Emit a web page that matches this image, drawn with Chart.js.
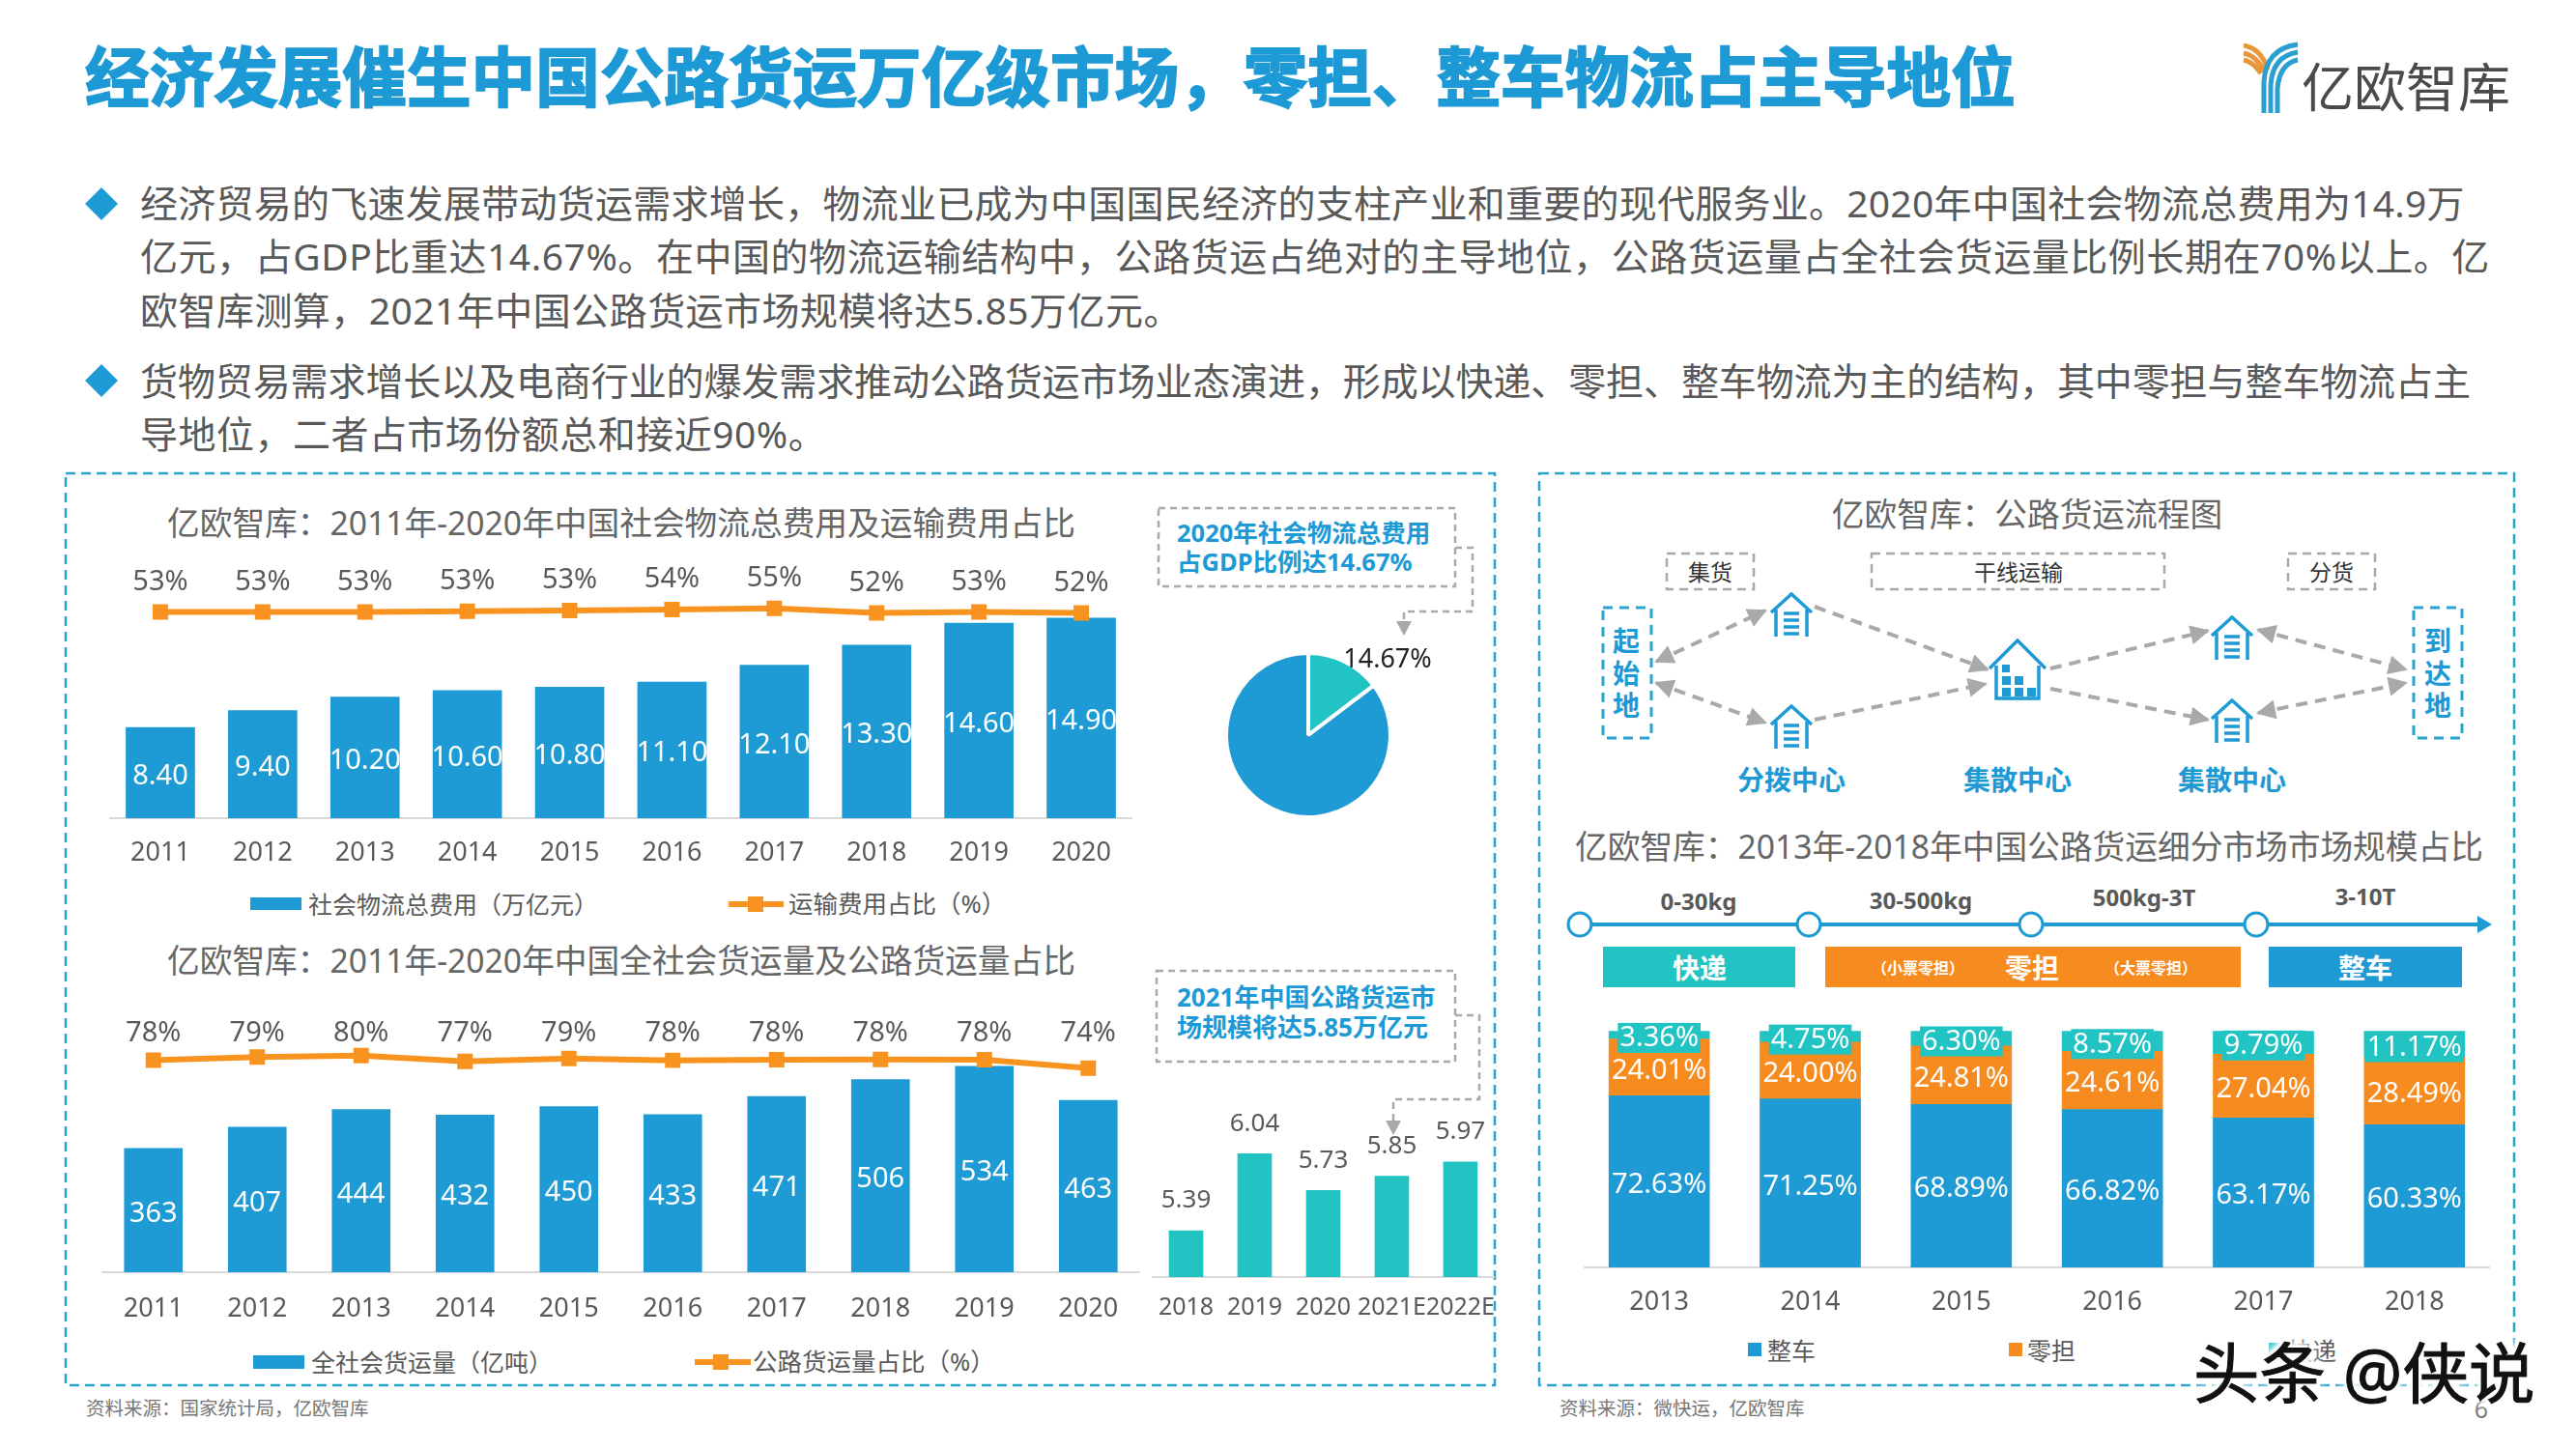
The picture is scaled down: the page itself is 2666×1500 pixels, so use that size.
<!DOCTYPE html>
<html lang="zh">
<head>
<meta charset="utf-8">
<title>公路货运市场</title>
<script src="https://cdn.jsdelivr.net/npm/chart.js@4/dist/chart.umd.min.js"></script>
<style>
  html, body { margin: 0; background: #fff; }
  #page { position: relative; width: 2666px; height: 1500px; overflow: hidden; background: #fff;
    font-family: "Noto Sans", "Noto Sans CJK SC", sans-serif; }
  #page svg { position: absolute; left: 0; top: 0; }
  #page canvas { position: absolute; }
  .t { position: absolute; white-space: nowrap; line-height: 1; transform: translateY(-50%); }
  .c { transform: translate(-50%, -50%); }
  .sw { position: absolute; }
</style>
</head>
<body>
<div id="page">
<svg width="2666" height="1500" viewBox="0 0 2666 1500" fill="none">
  <defs>
    <marker id="bigTip" viewBox="0 0 10 10" refX="9" refY="5" markerWidth="22" markerHeight="20" orient="auto-start-reverse" markerUnits="userSpaceOnUse">
      <path d="M0 0 L10 5 L0 10 Z" fill="#a9a9a9"/>
    </marker>
    <symbol id="house" viewBox="0 0 48 46">
      <path d="M3 21 L24 2 L45 21 M8 18 V46 M40 18 V46" stroke="#1e9bd4" stroke-width="3.5" fill="none"/>
      <path d="M16 22 H32 M16 29 H32 M16 36 H32 M16 43 H32" stroke="#1e9bd4" stroke-width="3.5"/>
    </symbol>
    <symbol id="bigHouse" viewBox="0 0 62 64">
      <path d="M2 31 L31 2 L60 31 M9 28 V62 H53 V28" stroke="#1e9bd4" stroke-width="3.5" fill="none"/>
      <path d="M15 27 h8 v8 h-8 z M15 39 h9 v9 h-9 z M28 39 h9 v9 h-9 z M15 51 h9 v9 h-9 z M28 51 h9 v9 h-9 z M41 51 h9 v9 h-9 z" fill="#1e9bd4"/>
    </symbol>
  </defs>

  <!-- logo -->
  <path d="M2322 47 Q2340 50 2347 72 M2322 55 Q2336 58 2343 74 M2322 62 Q2332 64 2340 76" stroke="#e8973a" stroke-width="5"/>
  <path d="M2378 46 Q2345 50 2343 85 V117 M2378 54 Q2352 58 2350 88 V117 M2378 62 Q2359 66 2357 92 V117" stroke="#2a9fd0" stroke-width="5"/>

  <!-- bullets -->
  <path d="M105 194 L122 211 L105 228 L88 211 Z M105 377 L122 394 L105 411 L88 394 Z" fill="#1e9bd4"/>

  <!-- panels -->
  <g stroke="#2aa3cf" stroke-width="2.5" stroke-dasharray="10 6">
    <rect x="68" y="490" width="1479" height="944"/>
    <rect x="1593" y="490" width="1009" height="944"/>
  </g>

  <!-- callouts -->
  <g stroke="#a9a9a9" stroke-width="2.5" stroke-dasharray="7 5">
    <rect x="1199" y="526" width="307" height="81"/>
    <path d="M1506 567 H1524 V633 H1453 V644"/>
    <rect x="1197" y="1005" width="309" height="94"/>
    <path d="M1506 1051 H1531 V1138 H1442 V1161"/>
  </g>
  <path d="M1445 643 h16 l-8 15 z M1434 1160 h16 l-8 15 z" fill="#a9a9a9"/>

  <!-- flow diagram -->
  <g stroke="#a9a9a9" stroke-width="2.5" stroke-dasharray="9 6">
    <rect x="1725" y="573" width="90" height="37"/>
    <rect x="1937" y="573" width="303" height="37"/>
    <rect x="2368" y="573" width="90" height="37"/>
  </g>
  <g stroke="#2aa3cf" stroke-width="3" stroke-dasharray="10 7">
    <rect x="1659" y="629" width="50" height="135"/>
    <rect x="2498" y="629" width="50" height="135"/>
  </g>
  <g stroke="#a9a9a9" stroke-width="4" stroke-dasharray="12 8">
    <path d="M1714 685 L1827 632" marker-start="url(#bigTip)" marker-end="url(#bigTip)"/>
    <path d="M1714 707 L1827 748" marker-start="url(#bigTip)" marker-end="url(#bigTip)"/>
    <path d="M1878 628 L2057 693" marker-end="url(#bigTip)"/>
    <path d="M1878 745 L2055 708" marker-end="url(#bigTip)"/>
    <path d="M2122 692 L2285 653" marker-end="url(#bigTip)"/>
    <path d="M2122 713 L2285 745" marker-end="url(#bigTip)"/>
    <path d="M2337 652 L2490 693" marker-start="url(#bigTip)" marker-end="url(#bigTip)"/>
    <path d="M2337 738 L2490 707" marker-start="url(#bigTip)" marker-end="url(#bigTip)"/>
  </g>
  <use href="#house" x="1830" y="613" width="48" height="46"/>
  <use href="#house" x="1830" y="729" width="48" height="46"/>
  <use href="#bigHouse" x="2057" y="661" width="62" height="64"/>
  <use href="#house" x="2286" y="637" width="48" height="46"/>
  <use href="#house" x="2286" y="723" width="48" height="46"/>

  <!-- timeline -->
  <path d="M1635 957 H2566" stroke="#1e9bd4" stroke-width="4"/>
  <path d="M2564 948 L2579 957 L2564 966 Z" fill="#1e9bd4"/>
  <g fill="#fff" stroke="#1e9bd4" stroke-width="3">
    <circle cx="1635" cy="957" r="12"/>
    <circle cx="1872" cy="957" r="12"/>
    <circle cx="2102" cy="957" r="12"/>
    <circle cx="2335" cy="957" r="12"/>
  </g>
  <rect x="1659" y="980" width="199" height="42" fill="#22c3c3"/>
  <rect x="1889" y="980" width="430" height="42" fill="#f68b1f"/>
  <rect x="2348" y="980" width="200" height="42" fill="#1e9bd4"/>
</svg>
</div>

<script>
// chart 1: logistics cost
const costYears = ["2011", "2012", "2013", "2014", "2015", "2016", "2017", "2018", "2019", "2020"];
const costValues = [8.4, 9.4, 10.2, 10.6, 10.8, 11.1, 12.1, 13.3, 14.6, 14.9];
const costValueLabels = ["8.40", "9.40", "10.20", "10.60", "10.80", "11.10", "12.10", "13.30", "14.60", "14.90"];
const transportShare = [53, 53, 53, 53.4, 53.8, 54.4, 55.2, 52.3, 53, 52.4];
const transportShareLabels = ["53%", "53%", "53%", "53%", "53%", "54%", "55%", "52%", "53%", "52%"];

// pie
const gdpShareNames = ["运输费用占比", "其他"];
const gdpShareValues = [14.67, 85.33];

// chart 2: freight volume
const freightYears = ["2011", "2012", "2013", "2014", "2015", "2016", "2017", "2018", "2019", "2020"];
const freightValues = [363, 407, 444, 432, 450, 433, 471, 506, 534, 463];
const roadShare = [78, 79.4, 80.1, 77.4, 78.8, 77.9, 78.2, 78.3, 78.2, 74.2];
const roadShareLabels = ["78%", "79%", "80%", "77%", "79%", "78%", "78%", "78%", "78%", "74%"];

// market size
const marketYears = ["2018", "2019", "2020", "2021E", "2022E"];
const marketValues = [5.39, 6.04, 5.73, 5.85, 5.97];

// segment share
const segmentYears = ["2013", "2014", "2015", "2016", "2017", "2018"];
const truckShare = [72.63, 71.25, 68.89, 66.82, 63.17, 60.33];
const ltlShare = [24.01, 24.0, 24.81, 24.61, 27.04, 28.49];
const expressShare = [3.36, 4.75, 6.3, 8.57, 9.79, 11.17];

const BLUE = "#1e9bd4";
const ORANGE = "#f7931e";
const TEAL = "#22c3c3";
const GREY = "#595959";
const FONT_FAMILY = '"Noto Sans", "Noto Sans CJK SC", sans-serif';

Chart.defaults.font.family = FONT_FAMILY;
Chart.defaults.animation = false;
Chart.defaults.color = GREY;
Chart.defaults.layout.autoPadding = false;

const page = document.getElementById("page");

function addText(text, x, y, size, color, opts) {
  opts = opts || {};
  const el = document.createElement("div");
  el.className = opts.center ? "t c" : "t";
  el.textContent = text;
  el.style.left = x + "px";
  el.style.top = y + "px";
  el.style.fontSize = size + "px";
  el.style.color = color;
  if (opts.bold) el.style.fontWeight = "700";
  if (opts.shadow) el.style.textShadow = opts.shadow;
  if (opts.stroke) el.style.webkitTextStroke = opts.stroke + "px " + color;
  if (opts.spacing) el.style.letterSpacing = opts.spacing + "px";
  page.appendChild(el);
  return el;
}

function addSwatch(x, y, w, h, color) {
  const el = document.createElement("div");
  el.className = "sw";
  el.style.cssText = "left:" + x + "px;top:" + y + "px;width:" + w + "px;height:" + h + "px;background:" + color;
  page.appendChild(el);
}

function addChart(left, top, width, height, config) {
  const canvas = document.createElement("canvas");
  canvas.width = width;
  canvas.height = height;
  canvas.style.left = left + "px";
  canvas.style.top = top + "px";
  page.appendChild(canvas);
  config.options.responsive = false;
  config.options.devicePixelRatio = 1;
  return new Chart(canvas, config);
}

// draws value text on the bars and points of a chart
function labelPlugin(sets) {
  return {
    id: "valueLabels",
    afterDatasetsDraw(chart) {
      const ctx = chart.ctx;
      sets.forEach(function (set) {
        chart.getDatasetMeta(set.dataset).data.forEach(function (el, i) {
          let y = el.y + (set.dy || 0) + 2;
          if (set.middle) y = (el.y + Math.min(el.base, chart.chartArea.bottom)) / 2 + 3.5;
          if (set.fixedY !== undefined) y = set.fixedY;
          ctx.save();
          ctx.font = set.size + "px " + FONT_FAMILY;
          ctx.textAlign = "center";
          ctx.textBaseline = "middle";
          if (set.background) {
            const w = ctx.measureText(set.texts[i]).width + 4;
            ctx.fillStyle = set.background;
            ctx.fillRect(el.x - w / 2, y - 16, w, 31);
          }
          ctx.fillStyle = set.color;
          ctx.fillText(set.texts[i], el.x, y);
          ctx.restore();
        });
      });
    },
  };
}

// the gap under the axis is an invisible tick mark, so tick padding never squeezes the plot
function xAxis(tickSize, tickGap) {
  return {
    grid: { display: false, drawTicks: true, tickLength: tickGap, tickColor: "rgba(0,0,0,0)" },
    border: { color: "#d9d9d9", width: 2 },
    ticks: { font: { size: tickSize }, padding: 0, color: GREY, autoSkip: false, maxRotation: 0, minRotation: 0 },
    afterFit: function (scale) {
      scale.height = 60;
    },
  };
}

function comboChart(labels, barName, bars, lineName, line, thickness, tickGap, yRange, lineRange, plugin) {
  return {
    type: "bar",
    data: {
      labels: labels,
      datasets: [
        { type: "line", label: lineName, data: line, yAxisID: "y1", order: 0, borderColor: ORANGE, backgroundColor: ORANGE,
          borderWidth: 6, tension: 0, fill: false, pointStyle: "rect", pointRadius: 11.3, pointBorderWidth: 0 },
        { label: barName, data: bars, yAxisID: "y", order: 1, backgroundColor: BLUE, barThickness: thickness },
      ],
    },
    options: {
      layout: { padding: { top: 10 } },
      plugins: { legend: { display: false }, tooltip: { enabled: false } },
      scales: {
        x: xAxis(27, tickGap),
        y: { display: false, min: yRange[0], max: yRange[1] },
        y1: { display: false, min: lineRange[0], max: lineRange[1] },
      },
    },
    plugins: [plugin],
  };
}

// heading and bullets
addText("经济发展催生中国公路货运万亿级市场，零担、整车物流占主导地位", 88, 80, 66.6, "#1d9ad6", { bold: true, stroke: 1.8 });
addText("亿欧智库", 2382, 90, 54, "#4a4a4a");
addText("经济贸易的飞速发展带动货运需求增长，物流业已成为中国国民经济的支柱产业和重要的现代服务业。2020年中国社会物流总费用为14.9万", 145, 209, 39, GREY, { spacing: 0.25 });
addText("亿元，占GDP比重达14.67%。在中国的物流运输结构中，公路货运占绝对的主导地位，公路货运量占全社会货运量比例长期在70%以上。亿", 145, 264, 39, GREY, { spacing: 0.55 });
addText("欧智库测算，2021年中国公路货运市场规模将达5.85万亿元。", 145, 320, 39, GREY, { spacing: 0.46 });
addText("货物贸易需求增长以及电商行业的爆发需求推动公路货运市场业态演进，形成以快递、零担、整车物流为主的结构，其中零担与整车物流占主", 145, 393, 39, GREY, { spacing: -0.1 });
addText("导地位，二者占市场份额总和接近90%。", 145, 448, 39, GREY, { spacing: 0.48 });

// left panel
addText("亿欧智库：2011年-2020年中国社会物流总费用及运输费用占比", 173, 542, 33.7, "#666666");
addChart(113, 570, 1059, 337, comboChart(costYears, "社会物流总费用（万亿元）", costValues, "运输费用占比（%）", transportShare, 71, 20,
  [3, 18.34], [-75, 85],
  labelPlugin([
    { dataset: 1, texts: costValueLabels, size: 29, color: "#ffffff", middle: true },
    { dataset: 0, texts: transportShareLabels, size: 29, color: GREY, dy: -33 },
  ])));
addSwatch(259, 929, 53, 13, BLUE);
addText("社会物流总费用（万亿元）", 319, 936, 25, GREY);
addSwatch(754, 933, 57, 6, ORANGE);
addSwatch(774, 928, 16, 16, ORANGE);
addText("运输费用占比（%）", 816, 936, 25.5, GREY);

addText("2020年社会物流总费用", 1218, 552, 25.5, "#1d9ad6", { bold: true });
addText("占GDP比例达14.67%", 1218, 582, 25.5, "#1d9ad6", { bold: true });

addChart(1204, 611, 300, 300, {
  type: "pie",
  data: {
    labels: gdpShareNames,
    datasets: [{ data: gdpShareValues, backgroundColor: [TEAL, BLUE], borderColor: "#ffffff", borderWidth: 4 }],
  },
  options: {
    radius: 85,
    plugins: { legend: { display: false }, tooltip: { enabled: false } },
  },
});
addText("14.67%", 1436, 680, 27, "#222222", { center: true });

addText("亿欧智库：2011年-2020年中国全社会货运量及公路货运量占比", 173, 995, 33.7, "#666666");
addChart(105, 1050, 1075, 327, comboChart(freightYears, "全社会货运量（亿吨）", freightValues, "公路货运量占比（%）", roadShare, 60, 22,
  [105, 622], [-21.8, 95],
  labelPlugin([
    { dataset: 1, texts: freightValues, size: 29, color: "#ffffff", middle: true },
    { dataset: 0, texts: roadShareLabels, size: 29, color: GREY, fixedY: 20 },
  ])));
addSwatch(262, 1403, 53, 14, BLUE);
addText("全社会货运量（亿吨）", 322, 1410, 25, GREY);
addSwatch(719, 1407, 58, 6, ORANGE);
addSwatch(738, 1402, 16, 16, ORANGE);
addText("公路货运量占比（%）", 779, 1410, 25.5, GREY);

addText("2021年中国公路货运市", 1218, 1032, 26, "#1d9ad6", { bold: true });
addText("场规模将达5.85万亿元", 1218, 1063, 26, "#1d9ad6", { bold: true });

addChart(1192, 1130, 355, 252, {
  type: "bar",
  data: {
    labels: marketYears,
    datasets: [{ label: "公路货运市场规模", data: marketValues, backgroundColor: TEAL, barThickness: 35 }],
  },
  options: {
    plugins: { legend: { display: false }, tooltip: { enabled: false } },
    scales: {
      x: xAxis(25, 17),
      y: { display: false, min: 5, max: 6.563 },
    },
  },
  plugins: [labelPlugin([{ dataset: 0, texts: marketValues, size: 26, color: GREY, dy: -33 }])],
});

addText("资料来源：国家统计局，亿欧智库", 89, 1458, 19.5, "#777777");

// right panel
addText("亿欧智库：公路货运流程图", 2098, 533, 33.7, "#666666", { center: true });
addText("集货", 1770, 592, 23, "#333333", { center: true });
addText("干线运输", 2089, 592, 23, "#333333", { center: true });
addText("分货", 2413, 592, 23, "#333333", { center: true });
["起", "始", "地"].forEach(function (ch, i) {
  addText(ch, 1683, 663 + i * 33.5, 28, "#1d9ad6", { center: true, bold: true });
});
["到", "达", "地"].forEach(function (ch, i) {
  addText(ch, 2523, 663 + i * 33.5, 28, "#1d9ad6", { center: true, bold: true });
});
addText("分拨中心", 1854, 807, 28, "#1d9ad6", { center: true, bold: true });
addText("集散中心", 2088, 807, 28, "#1d9ad6", { center: true, bold: true });
addText("集散中心", 2310, 807, 28, "#1d9ad6", { center: true, bold: true });

addText("亿欧智库：2013年-2018年中国公路货运细分市场市场规模占比", 1630, 877, 33.7, "#666666");
addText("0-30kg", 1758, 933, 24, GREY, { center: true, bold: true });
addText("30-500kg", 1988, 932, 24, GREY, { center: true, bold: true });
addText("500kg-3T", 2219, 929, 24, GREY, { center: true, bold: true });
addText("3-10T", 2448, 928, 24, GREY, { center: true, bold: true });
addText("快递", 1759, 1002, 28, "#ffffff", { center: true, bold: true });
addText("（小票零担）", 1985, 1002, 16, "#ffffff", { center: true, bold: true });
addText("零担", 2103, 1002, 28, "#ffffff", { center: true, bold: true });
addText("（大票零担）", 2226, 1002, 16, "#ffffff", { center: true, bold: true });
addText("整车", 2448, 1002, 28, "#ffffff", { center: true, bold: true });

const pct = function (arr) {
  return arr.map(function (v) { return v.toFixed(2) + "%"; });
};

addChart(1639, 1045, 938, 327, {
  type: "bar",
  data: {
    labels: segmentYears,
    datasets: [
      { label: "整车", data: truckShare, backgroundColor: BLUE, barThickness: 104 },
      { label: "零担", data: ltlShare, backgroundColor: "#f68b1f", barThickness: 104 },
      { label: "快递", data: expressShare, backgroundColor: TEAL, barThickness: 104 },
    ],
  },
  options: {
    layout: { padding: { top: 22.3 } },
    plugins: { legend: { display: false }, tooltip: { enabled: false } },
    scales: {
      x: Object.assign(xAxis(27, 20), { stacked: true }),
      y: { display: false, stacked: true, min: 0, max: 100 },
    },
  },
  plugins: [labelPlugin([
    { dataset: 0, texts: pct(truckShare), size: 29, color: "#ffffff", middle: true },
    { dataset: 1, texts: pct(ltlShare), size: 29, color: "#ffffff", middle: true },
    { dataset: 2, texts: pct(expressShare), size: 29, color: "#ffffff", middle: true, background: TEAL },
  ])],
});
addSwatch(1809, 1390, 14, 14, BLUE);
addText("整车", 1829, 1398, 25, GREY);
addSwatch(2079, 1390, 14, 14, "#f68b1f");
addText("零担", 2098, 1398, 25, GREY);
addSwatch(2348, 1390, 14, 14, TEAL);
addText("快递", 2368, 1398, 25, GREY);

addText("资料来源：微快运，亿欧智库", 1614, 1458, 19.5, "#777777");
addText("6", 2568, 1458, 25, "#777777", { center: true });

// watermark sits on top of everything, its white halo hides the legend entry below it
const halo = "0 0 4px #fff, 0 0 8px #fff, 0 0 12px #fff, 0 0 16px #fff, 0 0 20px #fff, 3px 3px 3px #fff, -3px -3px 3px #fff";
addText("头条 @侠说", 2270, 1421, 68.5, "#111111", { shadow: halo, stroke: 1 });
</script>
</body>
</html>
